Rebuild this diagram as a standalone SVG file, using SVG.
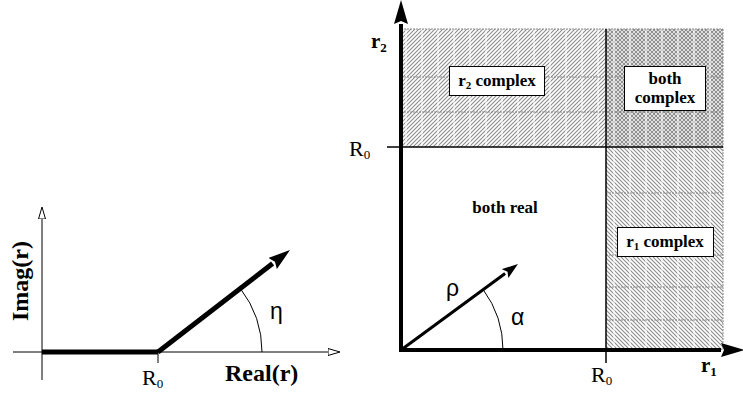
<svg xmlns="http://www.w3.org/2000/svg" width="743" height="398" viewBox="0 0 743 398">
<style>
.serif{font-family:"Liberation Serif","Times New Roman",serif;fill:#000}
.b{font-weight:bold}
.greek{font-family:"Liberation Sans",Arial,sans-serif;font-size:23px;fill:#000}
.thin{stroke:#000;stroke-width:1;fill:none}
.grid{stroke:#8a8a8a;stroke-width:1;stroke-dasharray:2 1}
.box{fill:#fff;stroke:#000;stroke-width:1}
</style>
<defs>
<pattern id="hatchF" patternUnits="userSpaceOnUse" width="4" height="4">
<rect width="4" height="4" fill="#fff"/>
<path d="M-1,1 l2,-2 M0,4 l4,-4 M3,5 l2,-2" stroke="#8c8c8c" stroke-width="1.1"/>
</pattern>
<pattern id="hatchB" patternUnits="userSpaceOnUse" width="4" height="4">
<path d="M-1,3 l2,2 M0,0 l4,4 M3,-1 l2,2" stroke="#8c8c8c" stroke-width="1.1"/>
</pattern>
<pattern id="stripes" patternUnits="userSpaceOnUse" width="16" height="10" x="405">
<rect x="0" width="2" height="10" fill="#fff" fill-opacity="0.5"/>
</pattern>
<marker id="openHead" viewBox="0 0 13 8" refX="0" refY="4" markerWidth="13" markerHeight="8" markerUnits="userSpaceOnUse" orient="auto">
<path d="M0,0.5 L12,4 L0,7.5 z" fill="#fff" stroke="#000" stroke-width="1"/>
</marker>
<marker id="bigHead" viewBox="0 0 24 14" refX="0" refY="7" markerWidth="24" markerHeight="14" markerUnits="userSpaceOnUse" orient="auto">
<path d="M0,0 L24,7 L0,14 L3,7 z" fill="#000"/>
</marker>
<marker id="midHead" viewBox="0 0 22 14" refX="0" refY="7" markerWidth="22" markerHeight="14" markerUnits="userSpaceOnUse" orient="auto">
<path d="M0,0 L22,7 L0,14 L3,7 z" fill="#000"/>
</marker>
<marker id="smallHead" viewBox="0 0 16 11" refX="0" refY="5.5" markerWidth="16" markerHeight="11" markerUnits="userSpaceOnUse" orient="auto">
<path d="M0,0 L16,5.5 L0,11 L3,5.5 z" fill="#000"/>
</marker>
</defs>

<g id="regions">
<g id="region-r2-complex">
<rect x="401" y="29" width="322" height="118" fill="url(#hatchF)"/>
</g>
<g id="region-r1-complex">
<rect x="606" y="147" width="117" height="203" fill="#fff"/>
<rect x="606" y="147" width="117" height="203" fill="url(#hatchB)"/>
</g>
<g id="region-both-complex">
<rect x="606" y="29" width="117" height="118" fill="url(#hatchB)"/>
</g>
<rect x="401" y="29" width="322" height="118" fill="url(#stripes)"/>
<rect x="606" y="147" width="117" height="203" fill="url(#stripes)"/>
<g class="grid">
<line x1="401" y1="29" x2="723" y2="29"/>
<line x1="401" y1="77" x2="723" y2="77"/>
<line x1="401" y1="112" x2="723" y2="112"/>
<line x1="606" y1="193" x2="723" y2="193"/>
<line x1="606" y1="255" x2="723" y2="255"/>
<line x1="606" y1="287" x2="723" y2="287"/>
<line x1="606" y1="320" x2="723" y2="320"/>
<line x1="723" y1="29" x2="723" y2="350"/>
</g>
</g>

<g id="connectors">
<line class="thin" x1="42" y1="380" x2="42" y2="219" marker-end="url(#openHead)"/>
<line class="thin" x1="13" y1="352" x2="328" y2="352" marker-end="url(#openHead)"/>
<line x1="42" y1="352" x2="158" y2="352" stroke="#000" stroke-width="5"/>
<line class="thin" x1="158" y1="352" x2="158" y2="363"/>
<line x1="158" y1="352" x2="272.6" y2="263.5" stroke="#000" stroke-width="5" marker-end="url(#midHead)"/>
<path class="thin" d="M240.3,288.4 A104,104 0 0 1 262,352"/>
<line x1="387" y1="147" x2="723" y2="147" stroke="#000" stroke-width="1.5"/>
<line x1="606" y1="29" x2="606" y2="363" stroke="#000" stroke-width="1.5"/>
<line x1="401" y1="352" x2="401" y2="24" stroke="#000" stroke-width="4" marker-end="url(#bigHead)"/>
<line x1="399" y1="350" x2="721" y2="350" stroke="#000" stroke-width="4" marker-end="url(#bigHead)"/>
<line x1="401" y1="350" x2="505.1" y2="273.5" stroke="#000" stroke-width="3" marker-end="url(#smallHead)"/>
<path class="thin" d="M483.2,289.6 A102,102 0 0 1 503,350"/>
</g>

<g id="left-labels">
<text class="serif b" font-size="24" transform="translate(28,281) rotate(-90)" text-anchor="middle">Imag(r)</text>
<text class="serif b" font-size="24" x="225" y="381">Real(r)</text>
<text class="serif" font-size="22" x="142" y="385">R<tspan font-size="13" dy="3">0</tspan></text>
<text class="greek" x="270" y="319">η</text>
</g>

<g id="right-labels">
<text class="serif b" font-size="21" x="371" y="48">r<tspan font-size="13" dy="4">2</tspan></text>
<text class="serif b" font-size="21" x="701" y="372">r<tspan font-size="13" dy="4">1</tspan></text>
<text class="serif" font-size="22" x="349" y="156">R<tspan font-size="13" dy="3">0</tspan></text>
<text class="serif" font-size="22" x="591" y="382">R<tspan font-size="13" dy="3">0</tspan></text>
<text class="greek" x="446" y="296">ρ</text>
<text class="greek" x="511" y="325">α</text>
</g>

<g id="node-r2-complex">
<rect class="box" x="449.5" y="66.5" width="95" height="29"/>
<text class="serif b" font-size="17" x="497" y="86" text-anchor="middle">r<tspan font-size="11" dy="3">2</tspan><tspan dy="-3"> complex</tspan></text>
</g>
<g id="node-both-complex">
<rect class="box" x="624.5" y="66.5" width="81" height="44"/>
<text class="serif b" font-size="17" x="665" y="84" text-anchor="middle">both</text>
<text class="serif b" font-size="17" x="665" y="103" text-anchor="middle">complex</text>
</g>
<g id="node-both-real">
<text class="serif b" font-size="17" x="505" y="213" text-anchor="middle">both real</text>
</g>
<g id="node-r1-complex">
<rect class="box" x="617.5" y="227.5" width="96" height="29"/>
<text class="serif b" font-size="17" x="665" y="247" text-anchor="middle">r<tspan font-size="11" dy="3">1</tspan><tspan dy="-3"> complex</tspan></text>
</g>
</svg>
